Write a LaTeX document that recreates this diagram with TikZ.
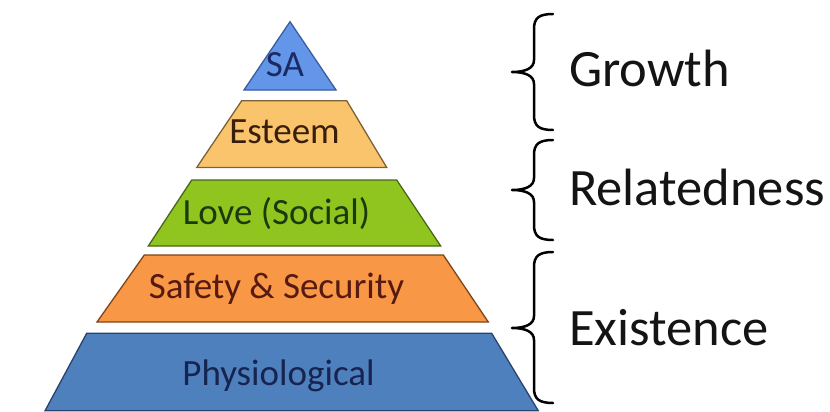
\documentclass[tikz,border=0pt]{standalone}
\usepackage{fontspec}
\setmainfont{Carlito}

% fills, outlines and text inks of the five tiers
\definecolor{saFill}{HTML}{6396E8}
\definecolor{saLine}{HTML}{3B5C9E}
\definecolor{saInk}{HTML}{1B2A66}
\definecolor{esFill}{HTML}{FAC46C}
\definecolor{esLine}{HTML}{7E6236}
\definecolor{esInk}{HTML}{3A1E0C}
\definecolor{loFill}{HTML}{90C520}
\definecolor{loLine}{HTML}{47661A}
\definecolor{loInk}{HTML}{1B3A0C}
\definecolor{sfFill}{HTML}{F89745}
\definecolor{sfLine}{HTML}{7F4419}
\definecolor{sfInk}{HTML}{561A10}
\definecolor{phFill}{HTML}{4F80BE}
\definecolor{phLine}{HTML}{27436E}
\definecolor{phInk}{HTML}{16244F}
\definecolor{labelInk}{HTML}{141414}

\begin{document}
\begin{tikzpicture}[x=1pt,y=-1pt,
  layer/.style={line width=1.3pt, line join=miter},
  tier/.style={font=\fontsize{37}{42}\selectfont, anchor=base, inner sep=0pt},
  group/.style={font=\fontsize{52.5}{60}\selectfont, anchor=base west, inner sep=0pt, text=labelInk},
  curly/.style={line width=2.5pt, draw=black, line cap=round, line join=round}]
\useasboundingbox (0,0) rectangle (830,412);

% ---- pyramid tiers ----
\draw[layer, fill=saFill, draw=saLine] (290,21.7) -- (336,90) -- (244,90) -- cycle;
\draw[layer, fill=esFill, draw=esLine] (241.7,100.7) -- (346.7,100.7) -- (386.7,167.5) -- (196.7,167.5) -- cycle;
\draw[layer, fill=loFill, draw=loLine] (191.7,180) -- (396.7,180) -- (440.7,246) -- (148.3,246) -- cycle;
\draw[layer, fill=sfFill, draw=sfLine] (144.3,255) -- (443.3,255) -- (488.3,322) -- (97,322) -- cycle;
\draw[layer, fill=phFill, draw=phLine] (86.7,333.3) -- (491.7,333.3) -- (538.3,410.8) -- (45,410.8) -- cycle;

% ---- tier labels ----
\node[tier, text=saInk] (sa)     at (285,77)    {SA};
\node[tier, text=esInk] (esteem) at (284.5,143.3) {Esteem};
\node[tier, text=loInk] (love)   at (276.5,224.5) {Love (Social)};
\node[tier, text=sfInk] (safety) at (276.5,298.5) {Safety \& Security};
\node[tier, text=phInk] (physio) at (278.5,385) {Physiological};

% ---- braces: top y, tip y, bottom y ----
\newcommand{\groupbrace}[3]{%
  \draw[curly] (553,#1) .. controls (539,#1) and (534,#1+4) .. (534,#1+15)
    -- (534,#2-12) .. controls (534,#2-4) and (526,#2) .. (512,#2)
    .. controls (526,#2) and (534,#2+4) .. (534,#2+12)
    -- (534,#3-15) .. controls (534,#3-4) and (539,#3) .. (553,#3);}
\groupbrace{14}{72}{130}
\groupbrace{140}{190}{240}
\groupbrace{252}{328}{403}

% ---- group labels ----
\node[group] (growth)      at (569,87)  {Growth};
\node[group] (relatedness) at (569,205) {Relatedness};
\node[group] (existence)   at (569,345) {Existence};
\end{tikzpicture}
\end{document}
